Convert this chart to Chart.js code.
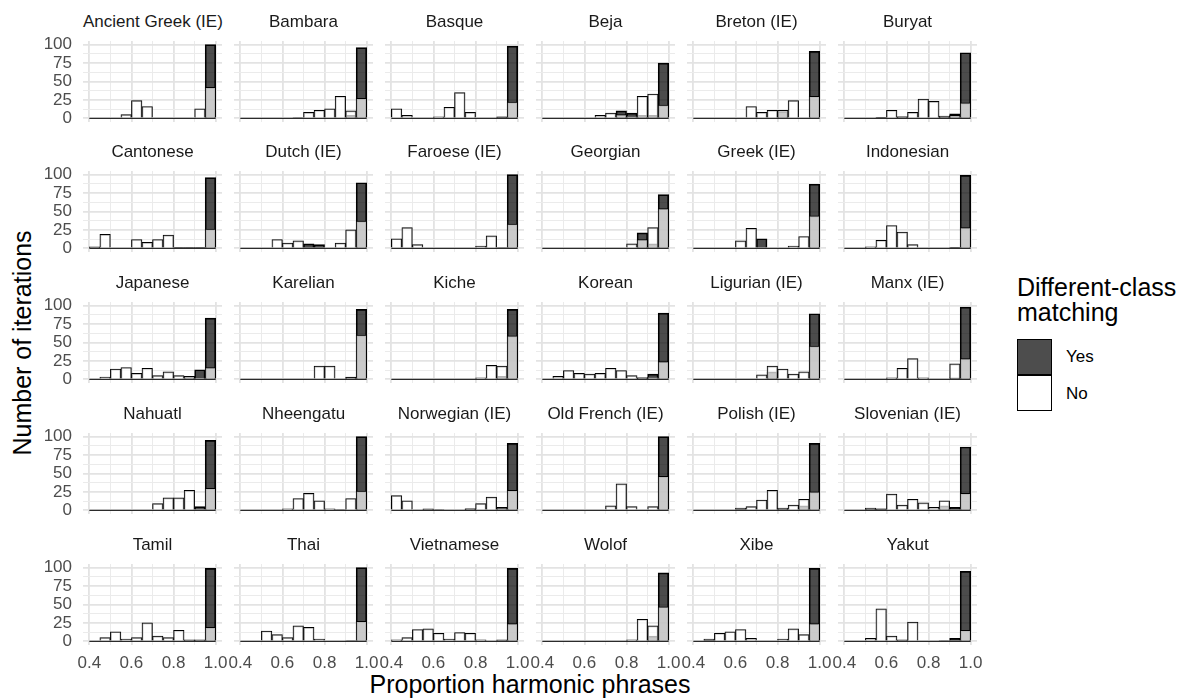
<!DOCTYPE html>
<html>
<head>
<meta charset="utf-8">
<script src="https://cdn.jsdelivr.net/npm/chart.js@4.4.0/dist/chart.umd.min.js"></script>
<style>
  body { margin: 0; background: #fff; font-family: "Liberation Sans", Arial, sans-serif; }
  #wrap { position: relative; width: 1181px; height: 699px; overflow: hidden; }
  canvas { position: absolute; }
  .strip { position: absolute; text-align: center; font-size: 17px; line-height: 20px; color: #1a1a1a; white-space: nowrap; }
  .title { position: absolute; font-size: 25px; line-height: 25px; color: #000; white-space: nowrap; }
  .key { position: absolute; left: 1017px; width: 33px; height: 34px; border: 1px solid #000; }
  .keylab { position: absolute; left: 1066px; font-size: 17px; line-height: 20px; color: #000; }
</style>
</head>
<body>
<div id="wrap">
  <div class="title" style="left:22px; top:343px; transform: translate(-50%, -50%) rotate(-90deg);">Number of iterations</div>
  <div class="title" style="left:530px; top:672px; transform: translateX(-50%);">Proportion harmonic phrases</div>
  <div class="title" style="left:1017px; top:275px;">Different-class<br>matching</div>
  <div class="key" style="top:339px; background:#4d4d4d;"></div>
  <div class="key" style="top:375px; background:#fff;"></div>
  <div class="keylab" style="top:347px;">Yes</div>
  <div class="keylab" style="top:384px;">No</div>
</div>
<script>
// facets, in reading order
const languages = [
  'Ancient Greek (IE)', 'Bambara', 'Basque', 'Beja', 'Breton (IE)', 'Buryat',
  'Cantonese', 'Dutch (IE)', 'Faroese (IE)', 'Georgian', 'Greek (IE)', 'Indonesian',
  'Japanese', 'Karelian', 'Kiche', 'Korean', 'Ligurian (IE)', 'Manx (IE)',
  'Nahuatl', 'Nheengatu', 'Norwegian (IE)', 'Old French (IE)', 'Polish (IE)', 'Slovenian (IE)',
  'Tamil', 'Thai', 'Vietnamese', 'Wolof', 'Xibe', 'Yakut'
];

// histogram bins (width 0.05)
const binEdges = [0.40, 0.45, 0.50, 0.55, 0.60, 0.65, 0.70, 0.75, 0.80, 0.85, 0.90, 0.95, 1.00];

// counts per bin, "No" class
const noCounts = [
  [0, 0, 0, 5, 24, 16, 0, 0, 0, 0, 13, 42],
  [0, 0, 0, 0, 0, 1, 8, 11, 13, 30, 10, 27],
  [13, 4, 0, 0, 2, 15, 35, 8, 0, 0, 1, 22],
  [0, 0, 0, 0, 0, 4, 7, 5, 3, 30, 33, 18],
  [0, 0, 0, 0, 0, 16, 8, 11, 11, 24, 0, 30],
  [0, 0, 0, 1, 11, 2, 8, 26, 23, 3, 4, 21],
  [2, 19, 0, 0, 12, 8, 12, 18, 1, 1, 1, 26],
  [0, 0, 0, 12, 7, 10, 1, 1, 0, 7, 25, 37],
  [13, 28, 5, 0, 0, 0, 0, 0, 3, 17, 1, 33],
  [0, 0, 0, 0, 0, 0, 0, 0, 6, 12, 28, 54],
  [0, 0, 0, 0, 10, 27, 0, 0, 0, 3, 16, 44],
  [0, 0, 2, 11, 31, 22, 5, 0, 0, 0, 1, 28],
  [0, 3, 14, 16, 8, 15, 5, 10, 5, 4, 2, 16],
  [0, 0, 0, 0, 0, 0, 0, 18, 18, 0, 2, 60],
  [0, 0, 0, 0, 0, 0, 0, 0, 2, 19, 18, 59],
  [0, 4, 12, 8, 7, 8, 15, 12, 5, 2, 3, 24],
  [0, 0, 0, 0, 0, 0, 6, 18, 14, 7, 10, 45],
  [0, 0, 0, 0, 2, 15, 28, 2, 0, 0, 21, 28],
  [0, 0, 0, 0, 0, 0, 9, 17, 17, 27, 0, 30],
  [0, 0, 0, 0, 2, 16, 23, 13, 2, 1, 16, 26],
  [20, 13, 0, 2, 1, 0, 0, 2, 9, 18, 3, 27],
  [0, 0, 0, 0, 0, 0, 6, 36, 5, 0, 5, 46],
  [0, 0, 0, 0, 3, 5, 14, 27, 3, 7, 15, 25],
  [0, 0, 3, 1, 22, 7, 15, 10, 4, 13, 1, 23],
  [0, 5, 13, 3, 5, 25, 7, 5, 15, 2, 2, 19],
  [0, 0, 14, 9, 5, 21, 19, 3, 0, 0, 1, 27],
  [2, 5, 16, 17, 11, 3, 12, 11, 2, 0, 2, 24],
  [0, 0, 0, 0, 0, 0, 0, 0, 2, 30, 21, 47],
  [0, 3, 11, 13, 16, 4, 0, 0, 3, 17, 9, 24],
  [0, 0, 4, 44, 7, 2, 26, 0, 0, 1, 1, 15]
];

// counts per bin, "Yes" class
const yesCounts = [
  [0, 0, 0, 0, 0, 0, 0, 0, 0, 0, 0, 100],
  [0, 0, 0, 0, 0, 0, 0, 0, 0, 0, 4, 96],
  [0, 0, 0, 0, 0, 0, 0, 0, 0, 0, 2, 98],
  [0, 0, 0, 0, 0, 0, 0, 10, 7, 4, 4, 75],
  [0, 0, 0, 0, 0, 0, 0, 0, 9, 0, 0, 91],
  [0, 0, 0, 1, 0, 2, 0, 0, 0, 2, 6, 89],
  [1, 0, 0, 0, 0, 0, 0, 0, 1, 1, 1, 96],
  [0, 0, 0, 0, 0, 0, 6, 5, 0, 0, 0, 89],
  [0, 0, 0, 0, 0, 0, 0, 0, 0, 0, 0, 100],
  [0, 0, 0, 0, 0, 0, 0, 0, 0, 21, 6, 73],
  [0, 0, 0, 0, 0, 0, 13, 0, 0, 0, 0, 87],
  [0, 0, 0, 0, 0, 0, 0, 0, 0, 0, 1, 99],
  [0, 0, 0, 0, 0, 0, 0, 0, 0, 4, 13, 83],
  [0, 0, 0, 0, 0, 0, 0, 0, 0, 0, 3, 95],
  [0, 0, 0, 0, 0, 0, 0, 0, 0, 0, 4, 95],
  [0, 0, 0, 0, 0, 0, 0, 0, 0, 2, 7, 90],
  [0, 0, 0, 0, 0, 0, 0, 10, 0, 0, 0, 89],
  [0, 0, 0, 0, 0, 0, 0, 0, 0, 0, 2, 98],
  [0, 0, 0, 0, 0, 0, 0, 0, 0, 0, 5, 95],
  [0, 0, 0, 0, 0, 0, 0, 0, 0, 0, 0, 100],
  [0, 0, 0, 1, 0, 0, 0, 2, 0, 0, 4, 91],
  [0, 0, 0, 0, 0, 0, 0, 0, 0, 0, 0, 100],
  [0, 0, 0, 0, 1, 0, 0, 0, 2, 0, 6, 91],
  [0, 0, 2, 2, 0, 0, 0, 0, 0, 6, 4, 86],
  [0, 0, 0, 0, 0, 0, 0, 0, 0, 1, 1, 99],
  [0, 0, 0, 0, 0, 0, 0, 0, 0, 0, 0, 100],
  [0, 0, 0, 0, 0, 0, 0, 0, 0, 0, 1, 99],
  [0, 0, 0, 0, 0, 0, 0, 0, 0, 0, 7, 93],
  [0, 1, 0, 0, 0, 0, 0, 0, 0, 0, 0, 99],
  [0, 0, 0, 0, 0, 1, 0, 0, 0, 0, 4, 95]
];

const xTicks = [0.4, 0.6, 0.8, 1.0];
const xMinor = [0.5, 0.7, 0.9];
const yTicks = [0, 25, 50, 75, 100];
const yMinor = [12.5, 37.5, 62.5, 87.5];

// panel geometry (px)
const NCOL = 6;
const COL0 = 83, COLSTEP = 151, PW = 139;
const ROW0 = 40.6, ROWSTEP = 130.75, PH = 81;
const YW = 50, XH = 30, PT = 24, PR = 20;

const wrap = document.getElementById('wrap');
const binCenters = binEdges.slice(0, -1).map((e, i) => (e + binEdges[i + 1]) / 2);
const xAll = [...xTicks, ...xMinor].sort((a, b) => a - b);
const yAll = [...yTicks, ...yMinor].sort((a, b) => a - b);
const tickFont = { family: 'Liberation Sans, Arial, sans-serif', size: 17 };

const isMajor = (list, c) => c.tick ? list.includes(c.tick.value) : true;

languages.forEach((lang, k) => {
  const row = Math.floor(k / NCOL), col = k % NCOL;
  const left = Math.round(COL0 + col * COLSTEP);
  const top = Math.round(ROW0 + row * ROWSTEP);

  const strip = document.createElement('div');
  strip.className = 'strip';
  strip.style.left = left + 'px';
  strip.style.width = PW + 'px';
  strip.style.top = (top - 29) + 'px';
  strip.textContent = lang;
  wrap.appendChild(strip);

  const cv = document.createElement('canvas');
  cv.width = YW + PW + PR;
  cv.height = PT + PH + XH;
  cv.style.left = (left - YW) + 'px';
  cv.style.top = (top - PT) + 'px';
  wrap.appendChild(cv);

  new Chart(cv, {
    type: 'bar',
    data: {
      datasets: [
        {
          label: 'Yes',
          data: binCenters.map((x, i) => ({ x: x, y: yesCounts[k][i] })),
          backgroundColor: 'rgba(0,0,0,0.7)',
          borderColor: '#000',
          borderWidth: 1,
          grouped: false,
          order: 2
        },
        {
          label: 'No',
          data: binCenters.map((x, i) => ({ x: x, y: noCounts[k][i] })),
          backgroundColor: 'rgba(255,255,255,0.7)',
          borderColor: '#000',
          borderWidth: 1,
          grouped: false,
          order: 1
        },
        {
          // baseline drawn by the zero-height bins
          type: 'line',
          data: [{ x: binEdges[0], y: 0 }, { x: binEdges[binEdges.length - 1], y: 0 }],
          borderColor: '#000',
          borderWidth: 1,
          pointRadius: 0,
          order: 0
        }
      ]
    },
    options: {
      responsive: false,
      animation: false,
      devicePixelRatio: 1,
      categoryPercentage: 1,
      barPercentage: 1,
      layout: { padding: { top: PT, right: PR, left: 0, bottom: 0 } },
      plugins: { legend: { display: false }, tooltip: { enabled: false }, title: { display: false } },
      scales: {
        x: {
          type: 'linear',
          offset: false,
          min: 0.37,
          max: 1.03,
          afterBuildTicks: s => { s.ticks = xAll.map(v => ({ value: v })); },
          afterFit: s => { s.height = XH; },
          border: { display: false },
          grid: {
            offset: false,
            drawTicks: false,
            color: c => isMajor(xTicks, c) ? '#e3e3e3' : '#ebebeb',
            lineWidth: c => isMajor(xTicks, c) ? 1.8 : 1
          },
          ticks: {
            display: row === 4,
            autoSkip: false,
            maxRotation: 0,
            padding: 8,
            color: '#4d4d4d',
            font: tickFont,
            callback: v => xTicks.includes(v) ? v.toFixed(1) : ''
          }
        },
        y: {
          min: -5,
          max: 105,
          afterBuildTicks: s => { s.ticks = yAll.map(v => ({ value: v })); },
          afterFit: s => { s.width = YW; },
          border: { display: false },
          grid: {
            drawTicks: false,
            color: c => isMajor(yTicks, c) ? '#e3e3e3' : '#ebebeb',
            lineWidth: c => isMajor(yTicks, c) ? 1.8 : 1
          },
          ticks: {
            display: col === 0,
            autoSkip: false,
            padding: 11,
            color: '#4d4d4d',
            font: tickFont,
            callback: v => yTicks.includes(v) ? String(v) : ''
          }
        }
      }
    }
  });
});
</script>
</body>
</html>
